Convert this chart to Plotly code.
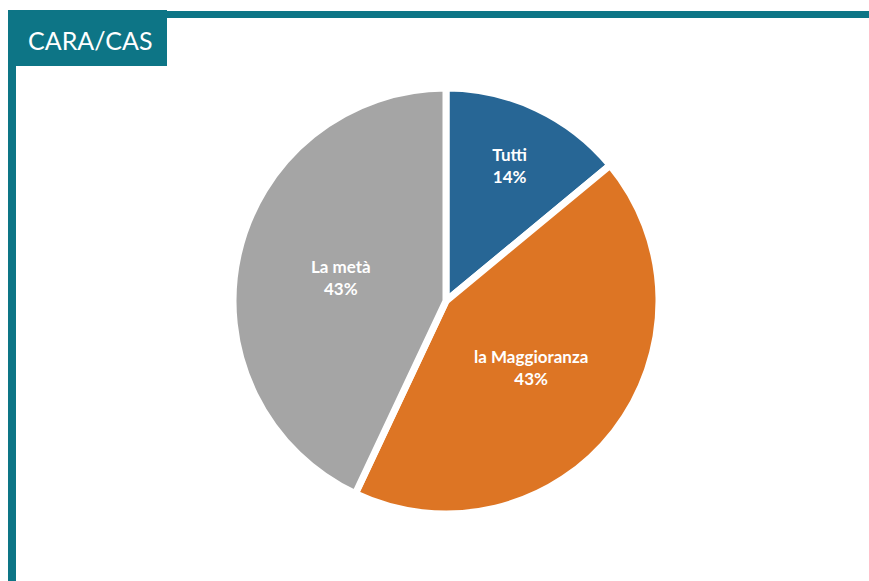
import plotly.graph_objects as go

W, H = 869, 581

labels = ["Tutti", "la Maggioranza", "La metà"]
values = [14, 43, 43]
colors = ["#276695", "#DD7524", "#A5A5A5"]
title = "CARA/CAS"
teal = "#0D7586"


def px(x0, y0, x1, y1):
    # pixel box -> paper coords
    return dict(x0=x0 / W, x1=x1 / W, y0=1 - y0 / H, y1=1 - y1 / H)


cx, cy, r = 446, 301, 213

fig = go.Figure(go.Pie(
    labels=labels,
    values=values,
    sort=False,
    direction="clockwise",
    rotation=0,
    marker=dict(colors=colors, line=dict(color="white", width=7)),
    texttemplate="<b>%{label}<br>%{percent:.0%}</b>",
    textposition="inside",
    insidetextorientation="horizontal",
    textfont=dict(family="Lato", size=17, color="white"),
    hoverinfo="label+percent",
    showlegend=False,
    domain=dict(x=[(cx - r) / W, (cx + r) / W],
                y=[1 - (cy + r) / H, 1 - (cy - r) / H]),
))

shapes = [
    dict(type="rect", xref="paper", yref="paper", fillcolor=teal,
         line_width=0, layer="above", **px(8, 11, W, 18)),
    dict(type="rect", xref="paper", yref="paper", fillcolor=teal,
         line_width=0, layer="above", **px(8, 11, 16, H)),
    dict(type="rect", xref="paper", yref="paper", fillcolor=teal,
         line_width=0, layer="above", **px(8, 10, 167, 66)),
]

fig.update_layout(
    width=W, height=H,
    margin=dict(l=0, r=0, t=0, b=0),
    paper_bgcolor="white",
    plot_bgcolor="white",
    shapes=shapes,
    annotations=[dict(
        text=title, xref="paper", yref="paper",
        x=90 / W, y=1 - 40 / H, xanchor="center", yanchor="middle",
        showarrow=False, font=dict(family="Lato", size=25, color="white"),
    )],
)

fig.write_html(
    "out.html",
    config={"displayModeBar": False},
    post_script="document.body.style.margin='0';document.body.style.overflow='hidden';",
)
